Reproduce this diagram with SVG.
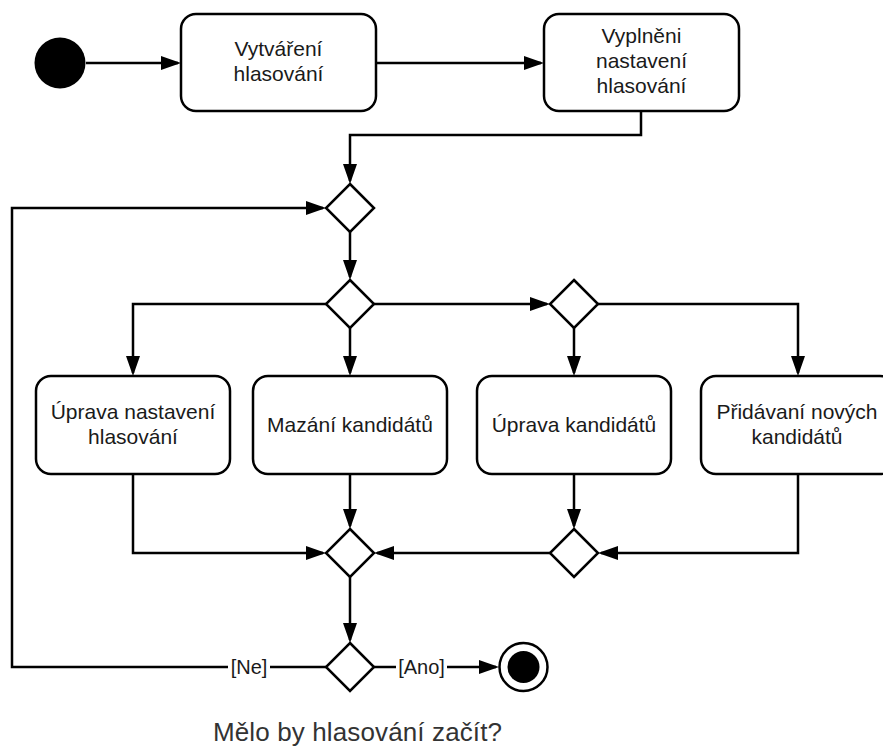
<svg xmlns="http://www.w3.org/2000/svg" width="883" height="747" viewBox="0 0 883 747">
<style>
.box{fill:#fff;stroke:#000;stroke-width:2.5}
.dia{fill:#fff;stroke:#000;stroke-width:2.5}
.t{font-family:"Liberation Sans",Arial,sans-serif;font-size:21px;fill:#1a1a1a;text-anchor:middle}
.lbl{font-family:"Liberation Sans",Arial,sans-serif;font-size:20px;fill:#1a1a1a;text-anchor:middle}
.q{font-family:"Liberation Sans",Arial,sans-serif;font-size:26px;fill:#333;text-anchor:middle}
.c{fill:none;stroke:#000;stroke-width:2.5}
.a{marker-end:url(#arr)}
</style>
<defs>
<marker id="arr" viewBox="0 0 20 14" refX="17" refY="7" markerWidth="20" markerHeight="14" markerUnits="userSpaceOnUse" orient="auto">
<path d="M0,0 L20,7 L0,14 z" fill="#000"/>
</marker>
</defs>
<rect width="883" height="747" fill="#fff"/>

<g id="connectors">
<path class="c a" d="M86,63 H178"/>
<path class="c a" d="M376,63 H541"/>
<path class="c a" d="M641,111 V135 H350 V181"/>
<path class="c a" d="M350,232 V277"/>
<path class="c a" d="M326,304 H133 V373"/>
<path class="c a" d="M350,328 V373"/>
<path class="c a" d="M374,304 H547"/>
<path class="c a" d="M574,328 V373"/>
<path class="c a" d="M598,304 H798 V373"/>
<path class="c a" d="M133,474 V553 H323"/>
<path class="c a" d="M350,474 V526"/>
<path class="c a" d="M574,474 V526"/>
<path class="c a" d="M798,474 V553 H601"/>
<path class="c a" d="M550,553 H377"/>
<path class="c a" d="M350,577 V640"/>
<path class="c" d="M326,667 H270"/>
<path class="c a" d="M228,667 H12 V208 H323"/>
<text class="lbl" x="249" y="674">[Ne]</text>
<path class="c" d="M374,667 H396"/>
<path class="c a" d="M447,667 H496"/>
<text class="lbl" x="421.5" y="674">[Ano]</text>
</g>

<g id="start"><circle cx="60" cy="63" r="25.5" fill="#000"/></g>

<g id="n1">
<rect class="box" x="181" y="14" width="195" height="97" rx="15"/>
<text class="t" x="278.5" y="56">Vytváření</text>
<text class="t" x="278.5" y="81">hlasování</text>
</g>

<g id="n2">
<rect class="box" x="544" y="14" width="195" height="97" rx="15"/>
<text class="t" x="641.5" y="43">Vyplněni</text>
<text class="t" x="641.5" y="68">nastavení</text>
<text class="t" x="641.5" y="93">hlasování</text>
</g>

<g id="d1"><path class="dia" d="M350,184 L374,208 L350,232 L326,208 Z"/></g>
<g id="d2"><path class="dia" d="M350,280 L374,304 L350,328 L326,304 Z"/></g>
<g id="d3"><path class="dia" d="M574,280 L598,304 L574,328 L550,304 Z"/></g>

<g id="nA">
<rect class="box" x="36" y="376" width="194" height="98" rx="15"/>
<text class="t" x="133" y="419">Úprava nastavení</text>
<text class="t" x="133" y="444">hlasování</text>
</g>
<g id="nB">
<rect class="box" x="253" y="376" width="194" height="98" rx="15"/>
<text class="t" x="350" y="432">Mazání kandidátů</text>
</g>
<g id="nC">
<rect class="box" x="477" y="376" width="194" height="98" rx="15"/>
<text class="t" x="574" y="432">Úprava kandidátů</text>
</g>
<g id="nD">
<rect class="box" x="701" y="376" width="194" height="98" rx="15"/>
<text class="t" x="797" y="419">Přidávaní nových</text>
<text class="t" x="797" y="444">kandidátů</text>
</g>

<g id="d4"><path class="dia" d="M350,529 L374,553 L350,577 L326,553 Z"/></g>
<g id="d5"><path class="dia" d="M574,529 L598,553 L574,577 L550,553 Z"/></g>
<g id="d6"><path class="dia" d="M350,643 L374,667 L350,691 L326,667 Z"/></g>

<g id="end">
<circle cx="523.5" cy="667" r="24" fill="#fff" stroke="#000" stroke-width="2.5"/>
<circle cx="523.5" cy="667" r="16" fill="#000"/>
</g>

<g id="question">
<text class="q" x="357.5" y="741" textLength="289" lengthAdjust="spacing">Mělo by hlasování začít?</text>
</g>
</svg>
